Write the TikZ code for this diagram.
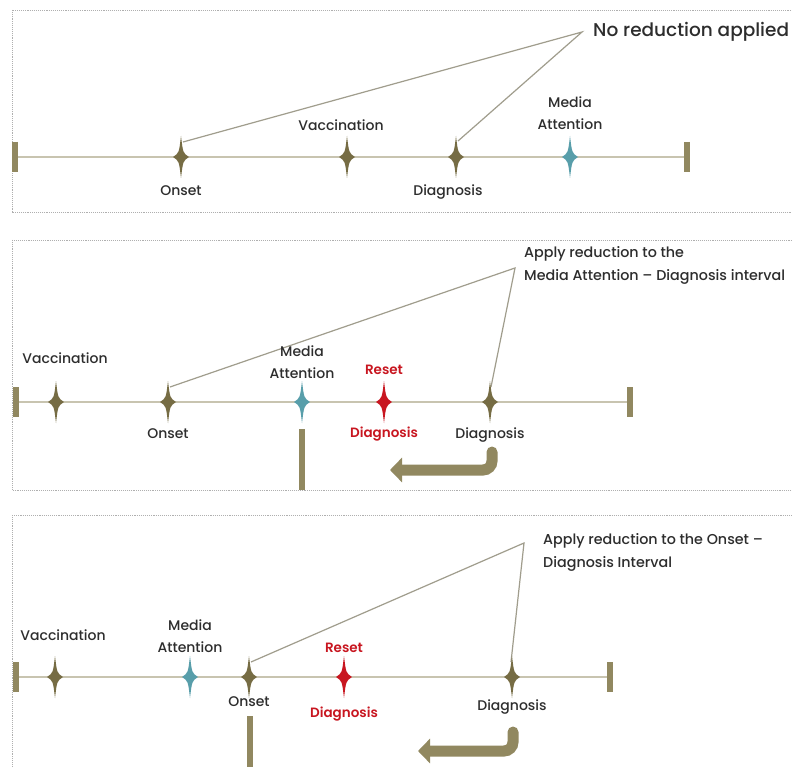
\documentclass[tikz,border=0pt]{standalone}
\usepackage{fontspec}
\setmainfont{Poppins}[UprightFont={* Medium}, BoldFont={* SemiBold}]
\usetikzlibrary{positioning, arrows.meta, calc}

\definecolor{tlolive}{RGB}{118,108,68}
\definecolor{tlbar}{RGB}{145,136,96}
\definecolor{tlline}{RGB}{200,196,176}
\definecolor{tlteal}{RGB}{88,158,170}
\definecolor{tlred}{RGB}{200,22,32}
\definecolor{tltext}{RGB}{45,45,45}
\definecolor{tlbox}{RGB}{175,175,175}

\tikzset{
  spark/.pic={
    \fill[#1] (0,-21) .. controls (2,-4) .. (8,0) .. controls (2,4) .. (0,21)
      .. controls (-2,4) .. (-8,0) .. controls (-2,-4) .. (0,-21) -- cycle;
  },
  panel/.style={draw=tlbox, densely dotted, line width=0.9pt},
  tline/.style={draw=tlline, line width=2pt},
  capbar/.style={draw=tlbar, line width=6pt},
  callout/.style={draw=tlline!80!black, line width=1.2pt},
  lbl/.style={font=\fontsize{14}{22}\selectfont, text=tltext, inner sep=0pt,
    text height=10pt, text depth=3pt},
  twolbl/.style={font=\fontsize{14}{22}\selectfont, text=tltext, inner sep=0pt,
    align=center},
  redlbl/.style={lbl, text=tlred, font=\fontsize{13.5}{22}\selectfont\bfseries},
  note/.style={font=\fontsize{14.3}{23}\selectfont, text=tltext, inner sep=0pt,
    align=left},
  bigarrow/.style={draw=tlbar, line width=11pt, rounded corners=9pt,
    line cap=round, -{Triangle[length=12pt,width=24pt]}},
}

\begin{document}
\begin{tikzpicture}[x=1pt, y=-1pt]
  \useasboundingbox (0,0) rectangle (792,767);
  \fill[white] (0,0) rectangle (792,767);

  % panel frames
  \draw[panel] (12,10) rectangle (800,212);
  \draw[panel] (12,240) rectangle (800,490);
  \draw[panel] (12,515) rectangle (800,780);

  % ---- no reduction ----
  \coordinate (lA) at (15,157);
  \coordinate (rA) at (687,157);
  \coordinate (onsetA) at (181,157);
  \coordinate (vaccA) at (347,157);
  \coordinate (diagA) at (456,157);
  \coordinate (mediaA) at (570,157);
  \coordinate (noteA) at (582,32);

  \draw[tline] (lA) -- (rA);
  \draw[capbar] ($(lA)+(0,-15)$) -- ($(lA)+(0,15)$);
  \draw[capbar] ($(rA)+(0,-15)$) -- ($(rA)+(0,15)$);
  \draw[callout] ($(onsetA)+(2,-15)$) -- (noteA) -- ($(diagA)+(2,-16)$);
  \pic at (onsetA) {spark=tlolive};
  \pic at (vaccA) {spark=tlolive};
  \pic at (diagA) {spark=tlolive};
  \pic at (mediaA) {spark=tlteal};

  \node[lbl, below=28pt of onsetA] (onsetAl) {Onset};
  \node[lbl, above=23pt of vaccA, xshift=-6pt] (vaccAl) {Vaccination};
  \node[lbl, below=28pt of diagA, xshift=-8pt] (diagAl) {Diagnosis};
  \node[twolbl, above=27pt of mediaA] (mediaAl) {Media\\Attention};
  \node[note, font=\fontsize{18.5}{22}\selectfont, anchor=west]
    (noteAtxt) at (593,32) {No reduction applied};

  % ---- media attention - diagnosis ----
  \coordinate (lB) at (16,402);
  \coordinate (rB) at (630,402);
  \coordinate (vaccB) at (56,402);
  \coordinate (onsetB) at (168,402);
  \coordinate (mediaB) at (302,402);
  \coordinate (resetB) at (384,402);
  \coordinate (diagB) at (490,402);
  \coordinate (noteB) at (515,268);

  \draw[tline] (lB) -- (rB);
  \draw[capbar] ($(lB)+(0,-15)$) -- ($(lB)+(0,15)$);
  \draw[capbar] ($(rB)+(0,-15)$) -- ($(rB)+(0,15)$);
  \draw[callout] ($(onsetB)+(2,-15)$) -- (noteB) -- ($(diagB)+(1,-15)$);
  \pic at (vaccB) {spark=tlolive};
  \pic at (onsetB) {spark=tlolive};
  \pic at (mediaB) {spark=tlteal};
  \pic at (resetB) {spark=tlred};
  \pic at (diagB) {spark=tlolive};

  \node[lbl, above=35pt of vaccB, xshift=9pt] (vaccBl) {Vaccination};
  \node[lbl, below=26pt of onsetB] (onsetBl) {Onset};
  \node[twolbl, above=23pt of mediaB] (mediaBl) {Media\\Attention};
  \node[redlbl, above=24pt of resetB] (resetBl) {Reset};
  \node[redlbl, below=25pt of resetB] (resetBd) {Diagnosis};
  \node[lbl, below=26pt of diagB] (diagBl) {Diagnosis};
  \node[note, anchor=north west] (noteBtxt) at (524,246)
    {Apply reduction to the\\Media Attention -- Diagnosis interval};

  \coordinate (barBtop) at (302,429);
  \coordinate (barBbot) at (302,490);
  \draw[capbar] (barBtop) -- (barBbot);
  \coordinate (arrBtop) at (492,452);
  \coordinate (arrBtip) at (390,470);
  \draw[bigarrow] (arrBtop) |- (arrBtip);

  % ---- onset - diagnosis ----
  \coordinate (lC) at (16,677);
  \coordinate (rC) at (610,677);
  \coordinate (vaccC) at (55,677);
  \coordinate (mediaC) at (190,677);
  \coordinate (onsetC) at (249,677);
  \coordinate (resetC) at (344,677);
  \coordinate (diagC) at (512,677);
  \coordinate (noteC) at (524,543);

  \draw[tline] (lC) -- (rC);
  \draw[capbar] ($(lC)+(0,-15)$) -- ($(lC)+(0,15)$);
  \draw[capbar] ($(rC)+(0,-15)$) -- ($(rC)+(0,15)$);
  \draw[callout] ($(onsetC)+(2,-15)$) -- (noteC) -- ($(diagC)+(-1,-15)$);
  \pic at (vaccC) {spark=tlolive};
  \pic at (mediaC) {spark=tlteal};
  \pic at (onsetC) {spark=tlolive};
  \pic at (resetC) {spark=tlred};
  \pic at (diagC) {spark=tlolive};

  \node[lbl, above=33pt of vaccC, xshift=8pt] (vaccCl) {Vaccination};
  \node[twolbl, above=24pt of mediaC] (mediaCl) {Media\\Attention};
  \node[lbl, below=19pt of onsetC] (onsetCl) {Onset};
  \node[redlbl, above=21pt of resetC] (resetCl) {Reset};
  \node[redlbl, below=30pt of resetC] (resetCd) {Diagnosis};
  \node[lbl, below=23pt of diagC] (diagCl) {Diagnosis};
  \node[note, anchor=north west] (noteCtxt) at (543,533)
    {Apply reduction to the Onset --\\Diagnosis Interval};

  \coordinate (barCtop) at (250,716);
  \coordinate (barCbot) at (250,775);
  \draw[capbar] (barCtop) -- (barCbot);
  \coordinate (arrCtop) at (513,732);
  \coordinate (arrCtip) at (418,751);
  \draw[bigarrow] (arrCtop) |- (arrCtip);
\end{tikzpicture}
\end{document}
